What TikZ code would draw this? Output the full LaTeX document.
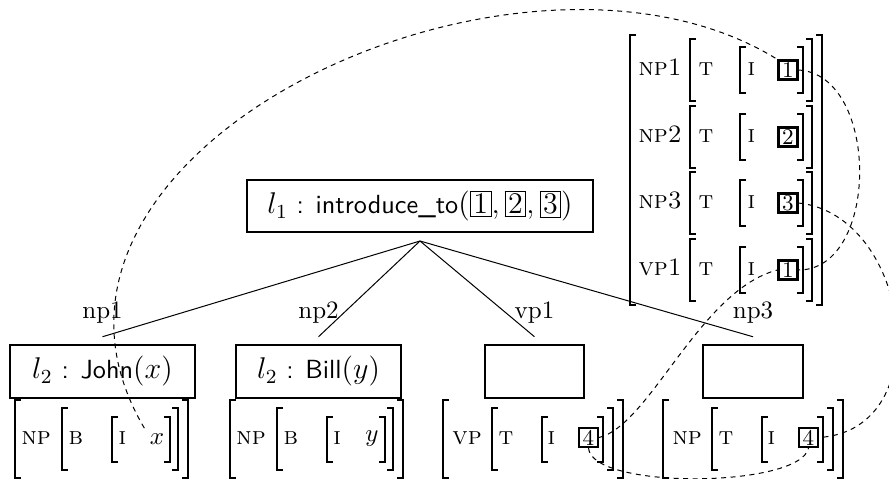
\documentclass[tikz,border=0pt]{standalone}
\usetikzlibrary{calc}
\tikzset{
  treebox/.style={draw, line width=1pt, inner sep=0pt, font=\large},
  tag/.style={draw, line width=0.9pt, inner sep=0pt, minimum width=7.6pt, minimum height=7.6pt, font=\small},
  avm/.style={inner sep=0pt, anchor=mid west},
  bracket/.style={line width=0.5pt},
  link/.style={dash pattern=on 2pt off 1.8pt, line width=0.4pt},
  edge/.style={line width=0.4pt},
  elabel/.style={inner sep=0pt, anchor=base},
}
\newcommand\avmL[3]{\draw[bracket] (#1+6,#2) -- (#1,#2) -- (#1,#3) -- (#1+6,#3);}
\newcommand\avmR[3]{\draw[bracket] (#1-6,#2) -- (#1,#2) -- (#1,#3) -- (#1-6,#3);}
\newcommand\bx[1]{{\setlength\fboxsep{1pt}\fbox{#1}}}
\newcommand\pred[1]{\textsf{\fontsize{10.5}{12}\selectfont #1}}
\begin{document}
\begin{tikzpicture}[x=0.4pt,y=-0.4pt]
\useasboundingbox (0,0) rectangle (889,479);
\clip (0,0) rectangle (889,479);
% tree
\node[treebox, minimum width=138.4pt, minimum height=20.8pt] (root) at (420,206)
  {$l_1$\pred{ : introduce\_to}$($\bx{1}$,$\,\bx{2}$,$\,\bx{3}$)$};
\coordinate (apex) at (420,241);
\node[treebox, minimum width=74pt, minimum height=21.2pt] (john) at (102.5,371.5) {$l_2$\pred{ : John}$(x)$};
\node[treebox, minimum width=66pt, minimum height=21.2pt] (bill) at (318.5,371.5) {$l_2$\pred{ : Bill}$(y)$};
\node[treebox, minimum width=39.6pt, minimum height=21.2pt] (vpbox) at (534.5,371.5) {};
\node[treebox, minimum width=40pt, minimum height=21.2pt] (npbox) at (753,371.5) {};
\coordinate (e1) at ($(john.north)+(0,-7)$);
\coordinate (e2) at ($(bill.north)+(0,-7)$);
\coordinate (e3) at ($(vpbox.north)+(0,-7)$);
\coordinate (e4) at ($(npbox.north)+(0,-7)$);
\draw[edge] (apex) -- (e1);
\draw[edge] (apex) -- (e2);
\draw[edge] (apex) -- (e3);
\draw[edge] (apex) -- (e4);
\node[elabel] (n1) at ($(e1)+(0,-18)$) {np1};
\node[elabel] (n2) at ($(e2)+(0,-18)$) {np2};
\node[elabel] (n3) at ($(e3)+(0,-18)$) {vp1};
\node[elabel] (n4) at ($(e4)+(0,-18)$) {np3};
% AVM 1
\avmL{15}{400}{478} \avmL{62}{408}{470} \avmL{112}{417}{462}
\avmR{170}{417}{462} \avmR{178}{408}{470} \avmR{188}{400}{478}
\node[avm] (a1np) at (21,439) {\textsc{np}};
\node[avm] (a1b) at (68,439) {\textsc{b}};
\node[avm] (a1i) at (118,439) {\textsc{i}};
\node[inner sep=2pt] (xv) at (157,439) {$x$};
% AVM 2
\avmL{230}{400}{478} \avmL{277}{408}{470} \avmL{327}{417}{462}
\avmR{385}{417}{462} \avmR{393}{408}{470} \avmR{403}{400}{478}
\node[avm] (a2np) at (236,439) {\textsc{np}};
\node[avm] (a2b) at (283,439) {\textsc{b}};
\node[avm] (a2i) at (333,439) {\textsc{i}};
\node[inner sep=2pt] (yv) at (372,439) {$y$};
% AVM 3
\avmL{443}{400}{478} \avmL{492}{408}{470} \avmL{542}{417}{462}
\avmR{603}{417}{462} \avmR{613}{408}{470} \avmR{623}{400}{478}
\node[avm] (a3vp) at (452,439) {\textsc{vp}};
\node[avm] (a3t) at (498,439) {\textsc{t}};
\node[avm] (a3i) at (547,439) {\textsc{i}};
\node[tag] (b4a) at (588.5,437.5) {4};
% AVM 4
\avmL{663}{400}{478} \avmL{712}{408}{470} \avmL{762}{417}{462}
\avmR{823}{417}{462} \avmR{833}{408}{470} \avmR{843}{400}{478}
\node[avm] (a4np) at (672,439) {\textsc{np}};
\node[avm] (a4t) at (718,439) {\textsc{t}};
\node[avm] (a4i) at (767,439) {\textsc{i}};
\node[tag] (b4b) at (808.5,437.5) {4};
% top AVM
\avmL{630}{35}{305} \avmR{822}{35}{305}
\foreach \y/\lab/\num/\nm in {70/np1/1/r1, 137/np2/2/r2, 203/np3/3/r3, 270/vp1/1/r4}{
  \avmL{690}{\y-31}{\y+31} \avmL{740}{\y-23}{\y+23}
  \avmR{803}{\y-23}{\y+23} \avmR{812}{\y-31}{\y+31}
  \node[avm] (\nm lab) at (638,\y) {\textsc{\lab}};
  \node[avm] (\nm t) at (698,\y) {\textsc{t}};
  \node[avm] (\nm i) at (747,\y) {\textsc{i}};
  \node[tag] (\nm) at (788,\y) {\num};
}
% links
\draw[link] (xv.north west) .. controls (-20,150) and (520,-100) .. (r1.north west);
\draw[link] (r1.east) .. controls (880,75) and (880,270) .. (r4.east);
\draw[link] (b4a.east) .. controls (650,425) and (700,290) .. (r4.west);
\draw[link] (r3.east) .. controls (910,215) and (940,430) .. (b4b.east);
\draw[link] (b4a.south) .. controls (592,490) and (800,488) .. (b4b.south);
\end{tikzpicture}
\end{document}
